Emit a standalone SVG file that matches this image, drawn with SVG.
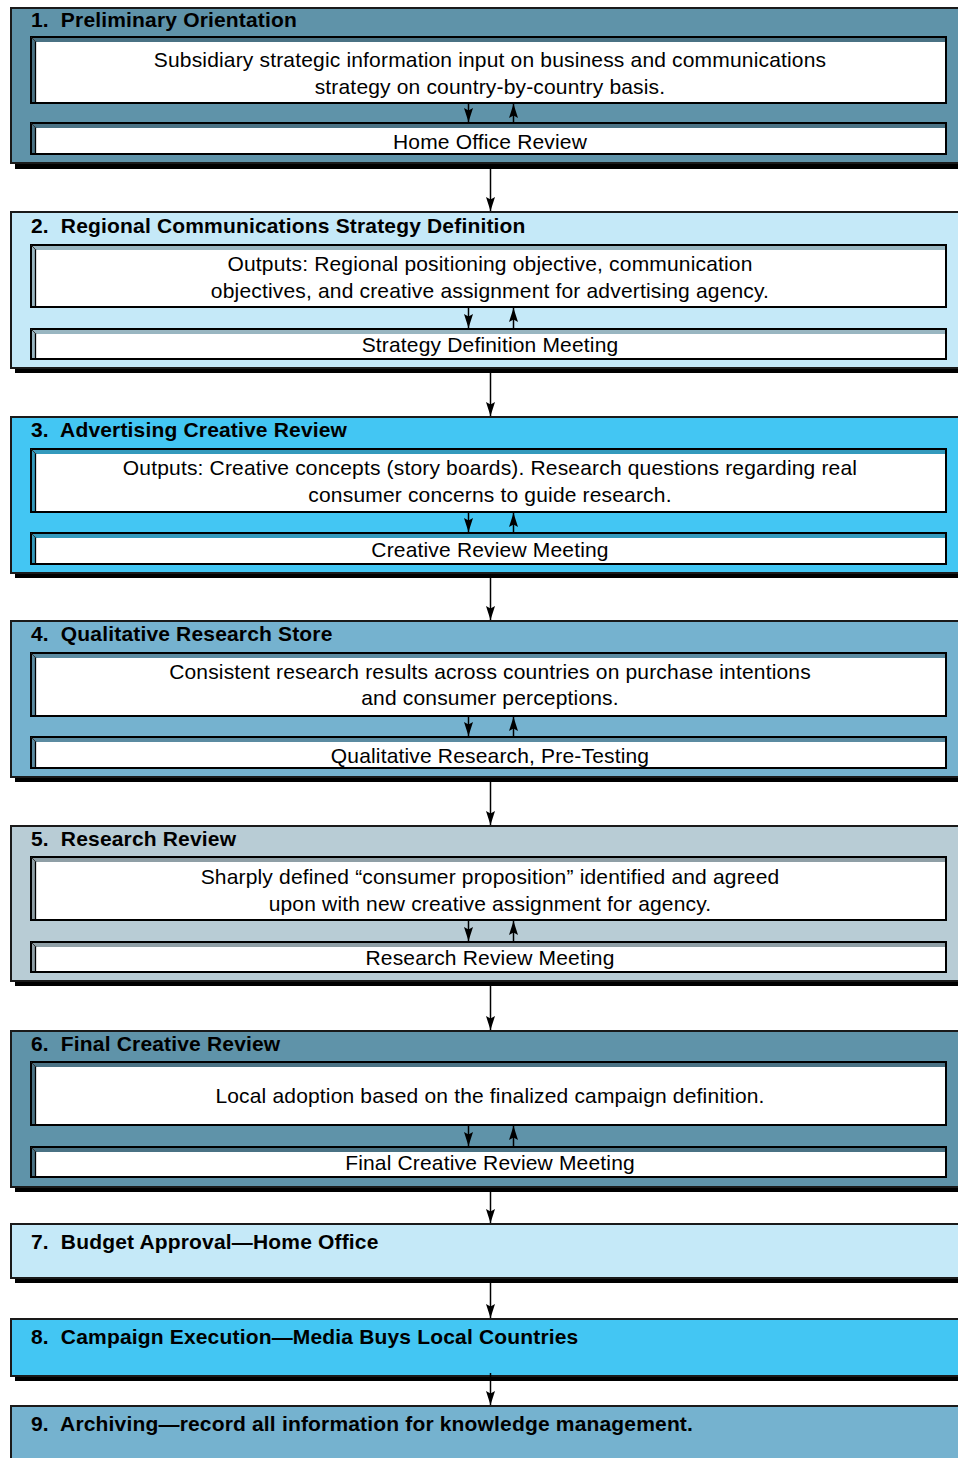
<svg xmlns="http://www.w3.org/2000/svg" width="958" height="1458" viewBox="0 0 958 1458">
  <style>
    .shadow { fill: #000; }
    .panel { stroke: #1a1a1a; stroke-width: 2; }
    .c1 { fill: #5F93A9; }
    .c2 { fill: #C5E9F8; }
    .c3 { fill: #43C6F3; }
    .c4 { fill: #75B2CF; }
    .c5 { fill: #B8CCD5; }
    .bevel { fill: #000; fill-opacity: 0.22; stroke: #000; stroke-width: 2; }
    .face { fill: #fff; }
    .edge { stroke: #000; stroke-width: 1.3; }
    .diag { stroke: #333; stroke-width: 1; }
    .title { font-family: "Liberation Sans", Arial, sans-serif; font-weight: bold; font-size: 21px; letter-spacing: 0.17px; fill: #000; }
    .body { font-family: "Liberation Sans", Arial, sans-serif; font-size: 21px; letter-spacing: 0.17px; fill: #000; text-anchor: middle; }
    .link { stroke: #000; stroke-width: 1.5; fill: none; marker-end: url(#head); }
  </style>
  <defs>
    <marker id="head" viewBox="0 0 14 9" refX="14" refY="4.5" markerWidth="14" markerHeight="9" markerUnits="userSpaceOnUse" orient="auto">
      <path d="M0,0 L14,4.5 L0,9 L2.5,4.5 Z" fill="#000"/>
    </marker>
  </defs>

  <rect width="958" height="1458" fill="#fff"/>

  <!-- Stage 1 -->
  <g id="stage1">
    <rect class="shadow" x="15" y="12" width="960" height="157"/>
    <rect class="panel c1" x="11" y="8" width="960" height="155"/>
    <text class="title" x="31" y="27" xml:space="preserve">1.  Preliminary Orientation</text>
    <rect class="bevel" x="31" y="37" width="915" height="66"/>
    <rect class="face" x="36" y="42" width="909" height="60"/>
    <line class="edge" x1="35.5" y1="41" x2="35.5" y2="103"/>
    <line class="diag" x1="31.5" y1="37.5" x2="36" y2="42"/>
    <text class="body" x="490" y="67">Subsidiary strategic information input on business and communications</text>
    <text class="body" x="490" y="94">strategy on country-by-country basis.</text>
    <rect class="bevel" x="31" y="123" width="915" height="31"/>
    <rect class="face" x="36" y="128" width="909" height="25"/>
    <line class="edge" x1="35.5" y1="127" x2="35.5" y2="154"/>
    <line class="diag" x1="31.5" y1="123.5" x2="36" y2="128"/>
    <text class="body" x="490" y="149">Home Office Review</text>
  </g>

  <!-- Stage 2 -->
  <g id="stage2">
    <rect class="shadow" x="15" y="216" width="960" height="157"/>
    <rect class="panel c2" x="11" y="212" width="960" height="156"/>
    <text class="title" x="31" y="233" xml:space="preserve">2.  Regional Communications Strategy Definition</text>
    <rect class="bevel" x="31" y="245" width="915" height="62"/>
    <rect class="face" x="36" y="250" width="909" height="56"/>
    <line class="edge" x1="35.5" y1="249" x2="35.5" y2="307"/>
    <line class="diag" x1="31.5" y1="245.5" x2="36" y2="250"/>
    <text class="body" x="490" y="271">Outputs: Regional positioning objective, communication</text>
    <text class="body" x="490" y="298">objectives, and creative assignment for advertising agency.</text>
    <rect class="bevel" x="31" y="329" width="915" height="30"/>
    <rect class="face" x="36" y="334" width="909" height="24"/>
    <line class="edge" x1="35.5" y1="333" x2="35.5" y2="359"/>
    <line class="diag" x1="31.5" y1="329.5" x2="36" y2="334"/>
    <text class="body" x="490" y="352">Strategy Definition Meeting</text>
  </g>

  <!-- Stage 3 -->
  <g id="stage3">
    <rect class="shadow" x="15" y="421" width="960" height="157"/>
    <rect class="panel c3" x="11" y="417" width="960" height="156"/>
    <text class="title" x="31" y="437" xml:space="preserve">3.  Advertising Creative Review</text>
    <rect class="bevel" x="31" y="449" width="915" height="63"/>
    <rect class="face" x="36" y="454" width="909" height="57"/>
    <line class="edge" x1="35.5" y1="453" x2="35.5" y2="512"/>
    <line class="diag" x1="31.5" y1="449.5" x2="36" y2="454"/>
    <text class="body" x="490" y="475">Outputs: Creative concepts (story boards). Research questions regarding real</text>
    <text class="body" x="490" y="502">consumer concerns to guide research.</text>
    <rect class="bevel" x="31" y="533" width="915" height="31"/>
    <rect class="face" x="36" y="538" width="909" height="25"/>
    <line class="edge" x1="35.5" y1="537" x2="35.5" y2="564"/>
    <line class="diag" x1="31.5" y1="533.5" x2="36" y2="538"/>
    <text class="body" x="490" y="557">Creative Review Meeting</text>
  </g>

  <!-- Stage 4 -->
  <g id="stage4">
    <rect class="shadow" x="15" y="625" width="960" height="157"/>
    <rect class="panel c4" x="11" y="621" width="960" height="156"/>
    <text class="title" x="31" y="641" xml:space="preserve">4.  Qualitative Research Store</text>
    <rect class="bevel" x="31" y="653" width="915" height="63"/>
    <rect class="face" x="36" y="658" width="909" height="57"/>
    <line class="edge" x1="35.5" y1="657" x2="35.5" y2="716"/>
    <line class="diag" x1="31.5" y1="653.5" x2="36" y2="658"/>
    <text class="body" x="490" y="679">Consistent research results across countries on purchase intentions</text>
    <text class="body" x="490" y="705">and consumer perceptions.</text>
    <rect class="bevel" x="31" y="737" width="915" height="31"/>
    <rect class="face" x="36" y="742" width="909" height="25"/>
    <line class="edge" x1="35.5" y1="741" x2="35.5" y2="768"/>
    <line class="diag" x1="31.5" y1="737.5" x2="36" y2="742"/>
    <text class="body" x="490" y="763">Qualitative Research, Pre-Testing</text>
  </g>

  <!-- Stage 5 -->
  <g id="stage5">
    <rect class="shadow" x="15" y="830" width="960" height="156"/>
    <rect class="panel c5" x="11" y="826" width="960" height="155"/>
    <text class="title" x="31" y="846" xml:space="preserve">5.  Research Review</text>
    <rect class="bevel" x="31" y="857" width="915" height="63"/>
    <rect class="face" x="36" y="862" width="909" height="57"/>
    <line class="edge" x1="35.5" y1="861" x2="35.5" y2="920"/>
    <line class="diag" x1="31.5" y1="857.5" x2="36" y2="862"/>
    <text class="body" x="490" y="884">Sharply defined “consumer proposition” identified and agreed</text>
    <text class="body" x="490" y="911">upon with new creative assignment for agency.</text>
    <rect class="bevel" x="31" y="942" width="915" height="30"/>
    <rect class="face" x="36" y="947" width="909" height="24"/>
    <line class="edge" x1="35.5" y1="946" x2="35.5" y2="972"/>
    <line class="diag" x1="31.5" y1="942.5" x2="36" y2="947"/>
    <text class="body" x="490" y="965">Research Review Meeting</text>
  </g>

  <!-- Stage 6 -->
  <g id="stage6">
    <rect class="shadow" x="15" y="1035" width="960" height="157"/>
    <rect class="panel c1" x="11" y="1031" width="960" height="156"/>
    <text class="title" x="31" y="1051" xml:space="preserve">6.  Final Creative Review</text>
    <rect class="bevel" x="31" y="1062" width="915" height="63"/>
    <rect class="face" x="36" y="1067" width="909" height="57"/>
    <line class="edge" x1="35.5" y1="1066" x2="35.5" y2="1125"/>
    <line class="diag" x1="31.5" y1="1062.5" x2="36" y2="1067"/>
    <text class="body" x="490" y="1103">Local adoption based on the finalized campaign definition.</text>
    <rect class="bevel" x="31" y="1147" width="915" height="30"/>
    <rect class="face" x="36" y="1152" width="909" height="24"/>
    <line class="edge" x1="35.5" y1="1151" x2="35.5" y2="1177"/>
    <line class="diag" x1="31.5" y1="1147.5" x2="36" y2="1152"/>
    <text class="body" x="490" y="1170">Final Creative Review Meeting</text>
  </g>

  <!-- Stage 7 -->
  <g id="stage7">
    <rect class="shadow" x="15" y="1228" width="960" height="55"/>
    <rect class="panel c2" x="11" y="1224" width="960" height="54"/>
    <text class="title" x="31" y="1249" xml:space="preserve">7.  Budget Approval—Home Office</text>
  </g>

  <!-- Stage 8 -->
  <g id="stage8">
    <rect class="shadow" x="15" y="1323" width="960" height="58"/>
    <rect class="panel c3" x="11" y="1319" width="960" height="57"/>
    <text class="title" x="31" y="1344" xml:space="preserve">8.  Campaign Execution—Media Buys Local Countries</text>
  </g>

  <!-- Stage 9 -->
  <g id="stage9">
    <rect class="panel c4" x="11" y="1406" width="960" height="80"/>
    <text class="title" x="31" y="1431" xml:space="preserve">9.  Archiving—record all information for knowledge management.</text>
  </g>

  <!-- Connectors -->
  <g id="connectors">
    <!-- stage to stage -->
    <line class="link" x1="490.5" y1="168" x2="490.5" y2="211"/>
    <line class="link" x1="490.5" y1="373" x2="490.5" y2="416"/>
    <line class="link" x1="490.5" y1="578" x2="490.5" y2="620"/>
    <line class="link" x1="490.5" y1="782" x2="490.5" y2="825"/>
    <line class="link" x1="490.5" y1="986" x2="490.5" y2="1030"/>
    <line class="link" x1="490.5" y1="1192" x2="490.5" y2="1223"/>
    <line class="link" x1="490.5" y1="1283" x2="490.5" y2="1318"/>
    <line class="link" x1="490.5" y1="1373" x2="490.5" y2="1405"/>
    <!-- within-stage exchange -->
    <line class="link" x1="468.5" y1="104" x2="468.5" y2="122"/>
    <line class="link" x1="513.5" y1="122" x2="513.5" y2="104"/>
    <line class="link" x1="468.5" y1="308" x2="468.5" y2="328"/>
    <line class="link" x1="513.5" y1="328" x2="513.5" y2="308"/>
    <line class="link" x1="468.5" y1="513" x2="468.5" y2="532"/>
    <line class="link" x1="513.5" y1="532" x2="513.5" y2="513"/>
    <line class="link" x1="468.5" y1="717" x2="468.5" y2="736"/>
    <line class="link" x1="513.5" y1="736" x2="513.5" y2="717"/>
    <line class="link" x1="468.5" y1="921" x2="468.5" y2="941"/>
    <line class="link" x1="513.5" y1="941" x2="513.5" y2="921"/>
    <line class="link" x1="468.5" y1="1126" x2="468.5" y2="1146"/>
    <line class="link" x1="513.5" y1="1146" x2="513.5" y2="1126"/>
  </g>
</svg>
